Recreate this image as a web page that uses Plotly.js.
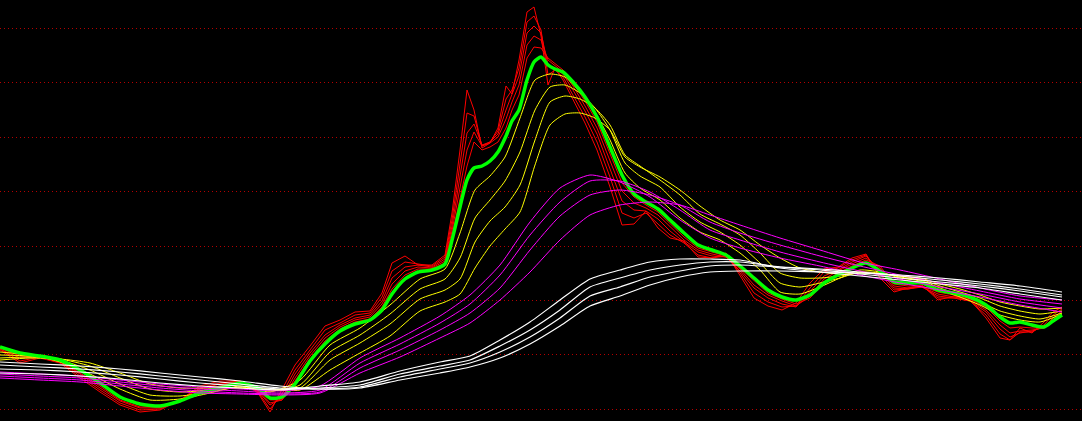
<!DOCTYPE html>
<html>
<head>
<meta charset="utf-8">
<script src="https://cdn.plot.ly/plotly-3.0.1.min.js"></script>
<style>html,body{margin:0;padding:0;background:#000;}#chart{width:1082px;height:421px;}</style>
</head>
<body>
<div id="chart"></div>
<script>
// time positions (bar index scale)
const xFast = [0,20,40,60,80,100,120,140,160,180,200,220,240,258,270,282,295,310,325,340,355,370,382,392,405,418,432,445,452,460,467,474,482,490,498,506,512,519,527,534,541,548,555,563,573,585,597,610,622,634,646,658,670,684,698,712,726,740,754,768,782,796,810,824,838,852,866,880,894,908,922,938,954,970,986,1000,1010,1020,1032,1044,1053,1062];
// short-term averages (red fan, fastest first) and the green line
const red1 = [71,58,63,58,43,29,16,9,11,21, 35,40,40,28,9,31,56,75,95,101, 109,110,128,158,165,156,156,166,208,271, 331,311,273,278,293,335,327,361,409,414, 385,336,353,341,321,298,271,234,196,197, 210,193,183,180,164,163,168,146,123,115, 111,118,138,152,154,163,167,143,129,133, 136,121,125,121,103,83,81,93,88,99, 109,114];
const red2 = [72,60,64,59,45,31,18,11,12,21, 33,38,40,29,12,27,51,71,91,98, 106,108,124,150,159,157,155,164,201,257, 308,305,275,279,290,322,331,353,399,405, 391,346,351,344,326,304,279,244,208,203, 208,197,186,178,166,163,165,148,128,119, 114,115,133,149,153,161,166,147,131,132, 135,123,123,120,106,87,81,89,89,96, 106,112];
const red3 = [72,63,64,59,47,33,20,13,13,21, 32,37,39,30,16,23,47,68,86,96, 103,106,120,143,154,156,154,162,195,244, 288,297,276,279,287,311,326,345,388,395, 388,356,352,347,331,310,287,253,220,211, 210,202,190,179,169,165,164,150,133,123, 117,114,129,145,151,159,165,150,133,132, 134,125,123,120,109,92,84,88,90,94, 103,110];
const red4 = [73,65,64,60,48,35,21,14,14,20, 30,35,39,31,18,21,43,65,83,94, 101,104,117,137,150,154,153,160,190,233, 271,289,275,278,284,302,319,336,376,385, 381,361,355,349,335,315,293,261,230,218, 213,206,194,181,171,167,164,152,136,126, 120,115,125,142,150,157,163,153,135,133, 134,127,124,121,111,96,88,90,91,93, 101,108];
const red5 = [74,66,65,61,50,37,23,16,14,20, 29,34,38,32,21,21,40,62,80,92, 99,102,114,132,146,152,152,158,185,223, 255,279,271,274,279,293,311,326,363,374, 373,363,357,351,338,320,299,268,238,224, 216,209,197,184,173,169,165,153,140,128, 122,117,123,139,148,155,161,155,137,135, 135,129,126,122,114,100,93,94,93,93, 100,107];
const green = [74,68,65,61,51,38,24,17,15,20, 28,33,38,33,23,24,37,60,77,90, 97,101,111,127,142,149,151,157,181,214, 241,253,255,260,269,285,300,311,341,359, 364,356,352,349,339,324,304,274,246,227, 219,212,201,188,176,171,166,155,143,131, 124,121,126,138,146,153,158,150,139,138, 138,131,128,124,116,104,98,99,96,94, 100,106];

// medium averages (yellow)
const xMid = [0,30,60,90,120,150,180,210,240,270,300,330,360,390,420,445,460,475,490,505,520,535,550,565,580,595,610,625,640,660,680,700,720,740,760,780,800,820,840,860,880,900,920,940,960,980,1000,1020,1040,1062];
const yellow1 = [69,66,59,47,32,21,22,28,35,29, 41,76,93,116,142,152,188,231,245,264, 303,341,347,344,329,309,281,248,233,221, 203,189,181,168,151,129,127,134,143,151, 149,143,140,131,124,116,106,101,99,107];
const yellow2 = [66,65,61,51,37,26,25,29,34,30, 36,69,86,107,132,142,163,203,221,240, 269,311,334,336,328,313,291,258,245,234, 214,199,189,176,158,138,134,138,143,149, 148,144,141,133,126,119,110,105,102,108];
const yellow3 = [63,64,62,55,43,32,29,31,33,31, 33,61,78,97,122,131,142,179,200,214, 236,281,319,325,322,313,296,266,255,241, 226,207,197,186,168,148,143,143,145,148, 147,145,142,135,129,123,115,110,107,110];
const yellow4 = [61,63,62,58,48,37,33,33,33,32, 31,51,68,85,110,119,127,153,175,192, 209,256,296,307,308,303,291,264,254,244, 231,215,201,191,176,163,153,149,147,148, 147,145,143,137,132,126,119,115,112,113];

// long averages (magenta and white)
const xSlow = [0,40,80,120,160,200,240,280,320,360,400,440,470,500,530,560,590,620,650,680,710,740,780,820,860,900,940,980,1020,1062];
const magenta1 = [49,47,45,41,37,34,32,30,35,63, 83,105,126,156,199,233,246,239,224,201, 183,173,163,155,146,138,131,124,116,109];
const magenta2 = [47,45,43,39,35,32,30,28,31,58, 77,98,117,146,186,219,240,240,229,211, 191,181,169,159,150,142,134,127,119,113];
const magenta3 = [45,43,41,37,33,30,28,27,29,53, 71,91,108,133,171,205,226,231,226,216, 199,188,176,165,155,146,138,130,122,117];
const magenta4 = [43,41,39,35,31,28,27,26,28,48, 64,83,98,121,149,181,206,216,219,216, 206,196,183,171,159,151,142,133,125,121];
const white1 = [48,47,45,42,38,35,33,31,35,39, 50,59,65,81,99,121,142,151,159,162, 162,161,153,149,145,141,137,133,127,121];
const white2 = [52,51,49,46,42,38,35,32,33,36, 47,55,61,75,91,111,134,143,151,156, 159,159,154,151,147,143,139,135,130,124];
const white3 = [56,54,52,49,45,41,37,33,32,34, 44,52,58,69,84,103,125,134,144,150, 155,156,154,152,149,145,141,137,132,126];
const white4 = [59,57,55,52,48,44,40,35,32,33, 41,48,54,63,77,95,115,125,136,144, 149,150,150,149,148,146,143,139,135,129];

function tr(x, y, color, width, shape) {
  return {x: x, y: y, type: 'scatter', mode: 'lines', hoverinfo: 'skip',
          line: {color: color, width: width, shape: shape || 'linear', smoothing: 0.6}};
}
const traces = [
  tr(xFast, red1, '#ff0000', 1), tr(xFast, red2, '#ff0000', 1), tr(xFast, red3, '#ff0000', 1),
  tr(xFast, red4, '#ff0000', 1), tr(xFast, red5, '#ff0000', 1),
  tr(xMid, yellow4, '#ffff00', 1, 'spline'), tr(xMid, yellow3, '#ffff00', 1, 'spline'),
  tr(xMid, yellow2, '#ffff00', 1, 'spline'), tr(xMid, yellow1, '#ffff00', 1, 'spline'),
  tr(xFast, green, '#00ff00', 3.5, 'spline'),
  tr(xSlow, magenta1, '#ff00ff', 1, 'spline'), tr(xSlow, magenta2, '#ff00ff', 1, 'spline'),
  tr(xSlow, magenta3, '#ff00ff', 1, 'spline'), tr(xSlow, magenta4, '#ff00ff', 1, 'spline'),
  tr(xSlow, white1, '#ffffff', 1.2, 'spline'), tr(xSlow, white2, '#ffffff', 1.2, 'spline'),
  tr(xSlow, white3, '#ffffff', 1.2, 'spline'), tr(xSlow, white4, '#ffffff', 1.2, 'spline')
];
const layout = {
  width: 1082, height: 421,
  margin: {l: 0, r: 0, t: 0, b: 0, pad: 0},
  paper_bgcolor: '#000000', plot_bgcolor: '#000000',
  showlegend: false, hovermode: false,
  xaxis: {range: [0, 1082], showgrid: false, zeroline: false, showticklabels: false, ticks: '', showline: false},
  yaxis: {range: [0, 421], showgrid: true, gridcolor: '#b40000', griddash: '1px,3px', gridwidth: 1,
          tick0: 11.7, dtick: 54.4, zeroline: false, showticklabels: false, ticks: '', showline: false}
};
Plotly.newPlot('chart', traces, layout, {staticPlot: true, displayModeBar: false});
</script>
</body>
</html>
